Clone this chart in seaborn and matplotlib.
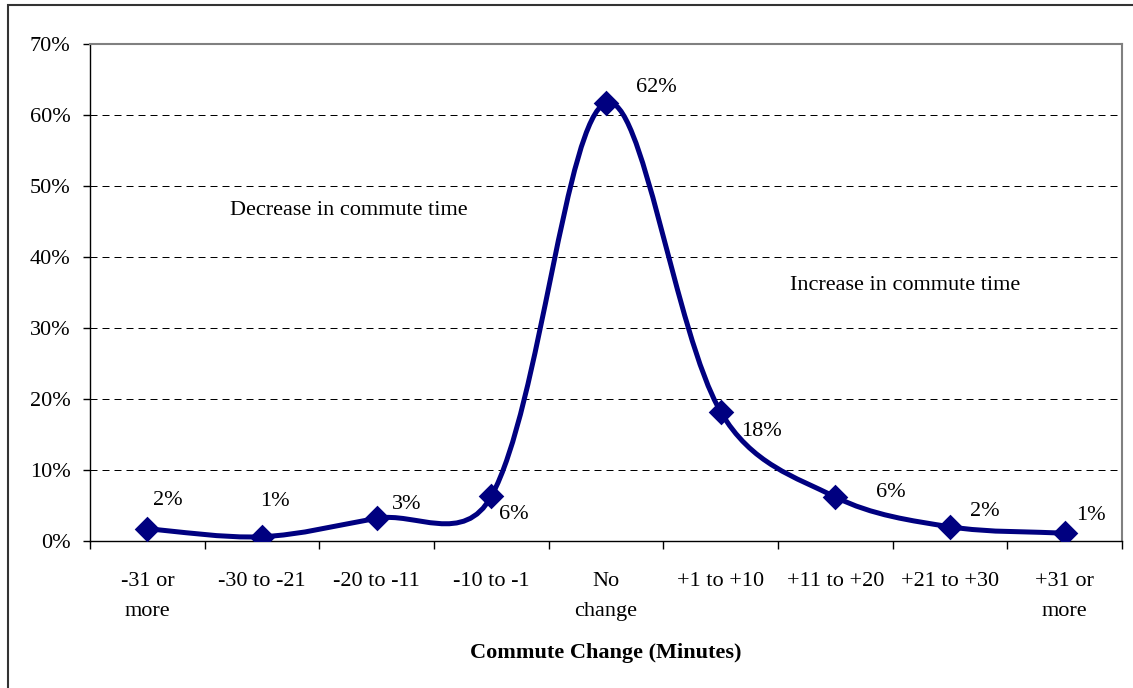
import numpy as np
import matplotlib
matplotlib.use('Agg')
import matplotlib.pyplot as plt
import seaborn as sns
from matplotlib.path import Path
from matplotlib.patches import PathPatch, Rectangle

categories = ['-31 or\nmore', '-30 to -21', '-20 to -11', '-10 to -1', 'No\nchange',
              '+1 to +10', '+11 to +20', '+21 to +30', '+31 or\nmore']
shares = [0.017, 0.006, 0.032, 0.063, 0.617, 0.182, 0.062, 0.020, 0.011]
# label offsets in pixels (dx right, dy up)
label_offsets = [(20, 28), (13, 35), (30, 14), (22, -18), (50, 15),
                 (41, -20), (55, 4), (35, 15), (26, 18)]

sns.set_theme(style='white')
plt.rcParams['font.family'] = ['Liberation Serif', 'DejaVu Serif']
plt.rcParams['text.color'] = 'black'
plt.rcParams['axes.labelcolor'] = 'black'
plt.rcParams['xtick.color'] = 'black'
plt.rcParams['ytick.color'] = 'black'

navy = '#000080'
fig = plt.figure(figsize=(11.33, 6.88), dpi=100)
ax = fig.add_axes([90 / 1133, 1 - 541 / 688, 1032 / 1133, 497 / 688])
ax.set_xlim(-0.5, len(categories) - 0.5)
ax.set_ylim(0, 0.7)

# smoothed line, Excel-like: bezier through the points, tangent lengths a mix of
# plain catmull-rom and segment-length scaling in screen space
xs = np.arange(len(shares), dtype=float)
pix = ax.transData.transform(np.column_stack([xs, shares]))
ext = np.vstack([pix[0], pix, pix[-1]])
verts = [pix[0]]
codes = [Path.MOVETO]
for i in range(len(pix) - 1):
    p0, p1, p2, p3 = ext[i], ext[i + 1], ext[i + 2], ext[i + 3]
    d01 = np.linalg.norm(p1 - p0)
    d12 = np.linalg.norm(p2 - p1)
    d23 = np.linalg.norm(p3 - p2)
    f1 = d12 / (d01 + d12) / 3 if d01 + d12 > 0 else 0
    f2 = d12 / (d12 + d23) / 3 if d12 + d23 > 0 else 0
    f1 = (f1 + 1 / 6) / 2
    f2 = (f2 + 1 / 6) / 2
    c1 = p1 + (p2 - p0) * f1
    c2 = p2 - (p3 - p1) * f2
    verts += [c1, c2, p2]
    codes += [Path.CURVE4] * 3
verts = ax.transData.inverted().transform(np.array(verts))
ax.add_patch(PathPatch(Path(verts, codes), fill=False, edgecolor=navy, lw=3.6,
                       capstyle='round', joinstyle='round', zorder=3))

sns.scatterplot(x=xs, y=shares, marker='D', s=170, color=navy, edgecolor=navy,
                linewidth=0, zorder=4, ax=ax, legend=False)

for x, v, (dx, dy) in zip(xs, shares, label_offsets):
    ax.annotate(f'{v:.0%}', (x, v), xytext=(dx * 0.72, dy * 0.72),
                textcoords='offset points', ha='center', va='center', fontsize=16)

ax.set_xlim(-0.5, len(categories) - 0.5)
ax.set_ylim(0, 0.7)
ax.set_yticks(np.arange(0, 0.71, 0.1))
ax.set_yticklabels([f'{int(round(t * 100))}%' for t in np.arange(0, 0.71, 0.1)])
ax.set_xticks(xs)
ax.set_xticklabels(categories, linespacing=1.8)
ax.set_xticks(np.arange(-0.5, len(categories)), minor=True)
ax.tick_params(axis='x', which='major', length=0, pad=22, labelsize=16)
ax.tick_params(axis='x', which='minor', length=6, width=1, color='black', direction='out', bottom=True)
ax.tick_params(axis='y', length=5, width=1, color='black', direction='out', left=True, pad=9, labelsize=16)

for t in np.arange(0.1, 0.61, 0.1):
    ax.axhline(t, color='black', lw=0.72, linestyle=(0, (7, 5)), zorder=1)

for s in ['left', 'bottom']:
    ax.spines[s].set_color('black')
    ax.spines[s].set_linewidth(1)
for s in ['top', 'right']:
    ax.spines[s].set_color('#808080')
    ax.spines[s].set_linewidth(1.5)

ax.set_xlabel('Commute Change (Minutes)', fontsize=16, fontweight='bold', labelpad=16)
ax.set_ylabel('')

ax.text(0.251, 0.664, 'Decrease in commute time', transform=ax.transAxes,
        ha='center', va='center', fontsize=16)
ax.text(0.790, 0.515, 'Increase in commute time', transform=ax.transAxes,
        ha='center', va='center', fontsize=16)

fig.add_artist(Rectangle((8 / 1133, -0.1), 1.2, 1.1 - 5 / 688, transform=fig.transFigure,
                         fill=False, edgecolor='#333333', lw=1.5))

fig.savefig('out.png', dpi=100)
